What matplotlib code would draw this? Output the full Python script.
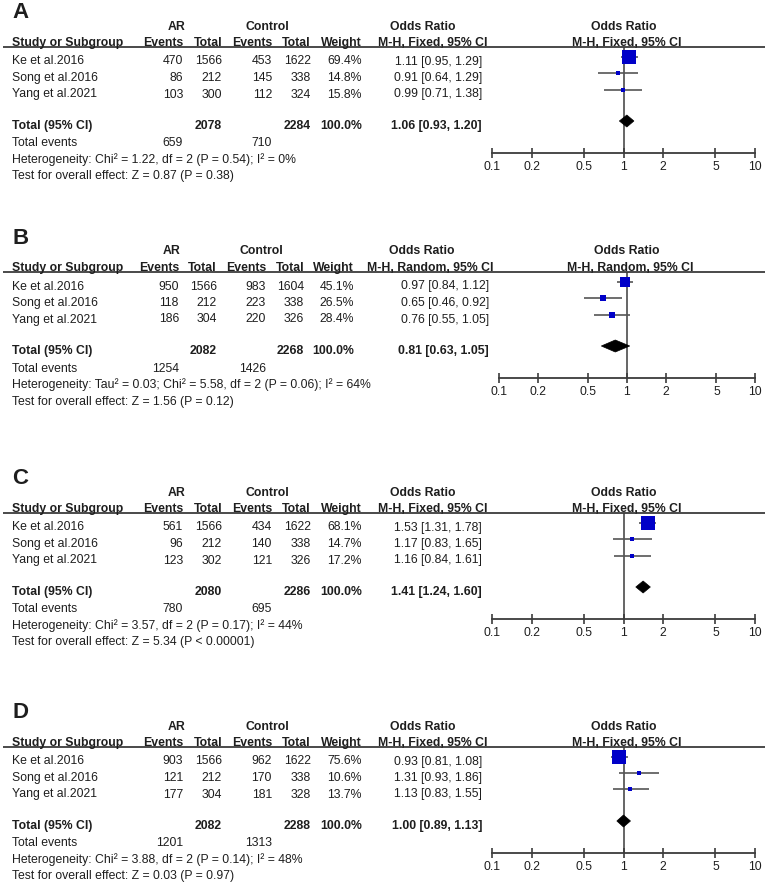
import matplotlib
matplotlib.use("Agg")
import matplotlib.pyplot as plt
from matplotlib.patches import Polygon

plt.rcParams['font.family'] = ['Liberation Sans', 'DejaVu Sans']

W, H = 768, 883

# ---------------- data ----------------
studies = ["Ke et al.2016", "Song et al.2016", "Yang et al.2021"]
panel_labels = ["A", "B", "C", "D"]
methods = ["Fixed", "Random", "Fixed", "Fixed"]

ar_events = [[470, 86, 103], [950, 118, 186], [561, 96, 123], [903, 121, 177]]
ar_totals = [[1566, 212, 300], [1566, 212, 304], [1566, 212, 302], [1566, 212, 304]]
ctrl_events = [[453, 145, 112], [983, 223, 220], [434, 140, 121], [962, 170, 181]]
ctrl_totals = [[1622, 338, 324], [1604, 338, 326], [1622, 338, 326], [1622, 338, 328]]
weights = [[69.4, 14.8, 15.8], [45.1, 26.5, 28.4], [68.1, 14.7, 17.2], [75.6, 10.6, 13.7]]
odds = [[1.11, 0.91, 0.99], [0.97, 0.65, 0.76], [1.53, 1.17, 1.16], [0.93, 1.31, 1.13]]
ci_low = [[0.95, 0.64, 0.71], [0.84, 0.46, 0.55], [1.31, 0.83, 0.84], [0.81, 0.93, 0.83]]
ci_high = [[1.29, 1.29, 1.38], [1.12, 0.92, 1.05], [1.78, 1.65, 1.61], [1.08, 1.86, 1.55]]
pooled_or = [1.06, 0.81, 1.41, 1.00]
pooled_low = [0.93, 0.63, 1.24, 0.89]
pooled_high = [1.20, 1.05, 1.60, 1.13]
total_ar = [2078, 2082, 2080, 2082]
total_ctrl = [2284, 2268, 2286, 2288]
events_ar = [659, 1254, 780, 1201]
events_ctrl = [710, 1426, 695, 1313]
heterogeneity = [
    "Heterogeneity: Chi\u00b2 = 1.22, df = 2 (P = 0.54); I\u00b2 = 0%",
    "Heterogeneity: Tau\u00b2 = 0.03; Chi\u00b2 = 5.58, df = 2 (P = 0.06); I\u00b2 = 64%",
    "Heterogeneity: Chi\u00b2 = 3.57, df = 2 (P = 0.17); I\u00b2 = 44%",
    "Heterogeneity: Chi\u00b2 = 3.88, df = 2 (P = 0.14); I\u00b2 = 48%",
]
overall = [
    "Test for overall effect: Z = 0.87 (P = 0.38)",
    "Test for overall effect: Z = 1.56 (P = 0.12)",
    "Test for overall effect: Z = 5.34 (P < 0.00001)",
    "Test for overall effect: Z = 0.03 (P = 0.97)",
]
tick_values = [0.1, 0.2, 0.5, 1, 2, 5, 10]
tick_labels = ["0.1", "0.2", "0.5", "1", "2", "5", "10"]

# ---------------- layout (pixels) ----------------
underline_y = [47, 272, 513, 747]
cols_std = dict(ev=183, tot=222, cev=272, ctot=311, wt=362, orr=482,
                ar_c=177, ctl_c=267, orh_c=423, mh_c=433, fx0=492, fx1=755)
cols_b = dict(ev=179, tot=217, cev=266, ctot=304, wt=354, orr=489,
              ar_c=172, ctl_c=261, orh_c=422, mh_c=430, fx0=499, fx1=755)
panel_cols = [cols_std, cols_b, cols_std, cols_std]

FS = 8.8
TXT = "#1e1e1e"
LINE = "#3c3c3c"
BLUE = "#0000c8"

fig = plt.figure(figsize=(W / 100, H / 100), dpi=100)
bg = fig.add_axes([0, 0, 1, 1])
bg.set_xlim(0, W)
bg.set_ylim(H, 0)
bg.axis("off")


def txt(x, y, s, ha="left", bold=False, size=FS):
    bg.text(x, y, s, ha=ha, va="baseline", fontsize=size,
            fontweight="bold" if bold else "normal", color=TXT)


AX_H = 106
for p in range(4):
    U = underline_y[p]
    c = panel_cols[p]
    # panel letter
    txt(12, U - 28.5, panel_labels[p], bold=True, size=16)
    # group headers
    txt(c["ar_c"], U - 17.5, "AR", ha="center", bold=True)
    txt(c["ctl_c"], U - 17.5, "Control", ha="center", bold=True)
    txt(c["orh_c"], U - 17.5, "Odds Ratio", ha="center", bold=True)
    fc = (c["fx0"] + c["fx1"]) / 2
    txt(fc, U - 17.5, "Odds Ratio", ha="center", bold=True)
    # column headers
    hb = U - 1.2
    txt(12, hb, "Study or Subgroup", bold=True)
    txt(c["ev"], hb, "Events", ha="right", bold=True)
    txt(c["tot"], hb, "Total", ha="right", bold=True)
    txt(c["cev"], hb, "Events", ha="right", bold=True)
    txt(c["ctot"], hb, "Total", ha="right", bold=True)
    txt(c["wt"], hb, "Weight", ha="right", bold=True)
    mh = "M-H, %s, 95%% CI" % methods[p]
    txt(c["mh_c"], hb, mh, ha="center", bold=True)
    txt(fc + 3, hb, mh, ha="center", bold=True)
    bg.plot([3, 765], [U, U], color=LINE, lw=1.3, solid_capstyle="butt")

    # study rows
    row_b = [U + 17.5, U + 34, U + 50.5]
    for i in range(3):
        b = row_b[i]
        txt(12, b, studies[i])
        txt(c["ev"], b, str(ar_events[p][i]), ha="right")
        txt(c["tot"], b, str(ar_totals[p][i]), ha="right")
        txt(c["cev"], b, str(ctrl_events[p][i]), ha="right")
        txt(c["ctot"], b, str(ctrl_totals[p][i]), ha="right")
        txt(c["wt"], b, "%.1f%%" % weights[p][i], ha="right")
        txt(c["orr"], b, "%.2f [%.2f, %.2f]" % (odds[p][i], ci_low[p][i], ci_high[p][i]), ha="right")
    tb = U + 82
    txt(12, tb, "Total (95% CI)", bold=True)
    txt(c["tot"], tb, str(total_ar[p]), ha="right", bold=True)
    txt(c["ctot"], tb, str(total_ctrl[p]), ha="right", bold=True)
    txt(c["wt"], tb, "100.0%", ha="right", bold=True)
    txt(c["orr"], tb, "%.2f [%.2f, %.2f]" % (pooled_or[p], pooled_low[p], pooled_high[p]), ha="right", bold=True)
    txt(12, U + 99.5, "Total events")
    txt(c["ev"], U + 99.5, str(events_ar[p]), ha="right")
    txt(c["cev"], U + 99.5, str(events_ctrl[p]), ha="right")
    txt(12, U + 116, heterogeneity[p])
    txt(12, U + 132.5, overall[p])

    # forest axes
    fx0, fx1 = c["fx0"], c["fx1"]
    ax = fig.add_axes([fx0 / W, 1 - (U + AX_H) / H, (fx1 - fx0) / W, AX_H / H])
    ax.set_xscale("log")
    ax.set_xlim(0.1, 10)
    ax.set_ylim(U + AX_H, U)
    ax.patch.set_alpha(0)
    for s in ["top", "left", "right"]:
        ax.spines[s].set_visible(False)
    ax.spines["bottom"].set_color(LINE)
    ax.spines["bottom"].set_linewidth(1.3)
    ax.set_yticks([])
    ax.set_xticks(tick_values)
    ax.set_xticklabels(tick_labels)
    ax.minorticks_off()
    ax.tick_params(axis="x", direction="inout", length=7, width=1.2, color=LINE,
                   labelsize=FS, labelcolor=TXT, pad=2.5)
    ax.axvline(1, color=LINE, lw=1.1, zorder=1)
    fy = [U + 9.5, U + 26, U + 42.5]
    for i in range(3):
        ax.plot([ci_low[p][i], ci_high[p][i]], [fy[i], fy[i]], color="#555555", lw=1.2, zorder=2,
                solid_capstyle="butt")
        side_px = 1.5 + 0.17 * weights[p][i]
        ax.plot([odds[p][i]], [fy[i]], marker="s", markersize=side_px * 0.72, color=BLUE,
                markeredgewidth=0, zorder=3, clip_on=False)
    dy = U + 74
    hh = 6
    dia = Polygon([[pooled_low[p], dy], [pooled_or[p], dy - hh], [pooled_high[p], dy], [pooled_or[p], dy + hh]],
                  closed=True, facecolor="black", edgecolor="black", lw=0.5, zorder=4)
    ax.add_patch(dia)

fig.savefig("out.png", dpi=100)
